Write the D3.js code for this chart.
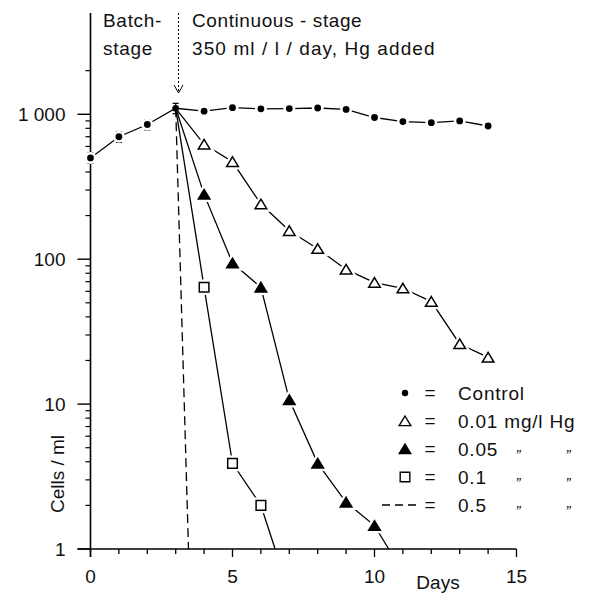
<!DOCTYPE html>
<html><head><meta charset="utf-8">
<script src="https://cdn.jsdelivr.net/npm/d3@7"></script>
<style>
html,body{margin:0;padding:0;background:#fff;}
text{font-family:"Liberation Sans",Arial,sans-serif;fill:#111;}
</style></head>
<body><svg id="chart" width="592" height="594"></svg>
<script>
// ---- data ----
const controlDays = [0,1,2,3,4,5,6,7,8,9,10,11,12,13,14];
const controlVals = [500,700,850,1100,1050,1110,1090,1095,1105,1080,950,890,875,900,830];
const controlErr  = [40,60,70,90];            // error bars, days 0-3
const hg001Days = [3,4,5,6,7,8,9,10,11,12,13,14];
const hg001Vals = [1100,620,470,240,157,118,85,69,63,51,26,21];
const hg005Days = [3,4,5,6,7,8,9,10,10.5];
const hg005Vals = [1100,280,94,64,10.7,3.9,2.1,1.45,1];
const hg01Days  = [3,4,5,6,6.5];
const hg01Vals  = [1100,64,3.9,2,1];
const hg05Days  = [3,3.45];
const hg05Vals  = [1100,1];
const xMajorTicks = [0,5,10,15];
const xMinorTicks = d3.range(0,16);
const yMajorTicks = [1,10,100,1000];
const yTickLabels = ["1","10","100","1 000"];
const yMinorTicks = [2,3,4,5,6,7,8,9,20,30,40,50,60,70,80,90,200,300,400,500,600,700,800,900,2000];
const legendLabels = ["Control","0.01 mg/l  Hg","0.05","0.1","0.5"];
const headerLeft = ["Batch-","stage"];
const headerRight = ["Continuous - stage","350 ml / l / day, Hg added"];
const arrowDay = 3.1;

// ---- scales ----
const svg = d3.select("#chart");
const x = d3.scaleLinear().domain([0,15]).range([90.5,516.5]);
const y = d3.scaleLog().domain([1,5000]).range([549,13]);
const fs = 19;

// axes
const g = svg.append("g");
g.append("line").attr("x1",x(0)).attr("x2",x(0)).attr("y1",y(5000)).attr("y2",y(1)+8)
  .attr("stroke","#000").attr("stroke-width",1.6);
g.append("line").attr("x1",x(0)-13).attr("x2",x(15)).attr("y1",y(1)).attr("y2",y(1))
  .attr("stroke","#000").attr("stroke-width",1.6);
// y ticks
g.selectAll(".ymaj").data(yMajorTicks).join("line")
  .attr("x1",x(0)-13).attr("x2",x(0)).attr("y1",d=>y(d)).attr("y2",d=>y(d))
  .attr("stroke","#000").attr("stroke-width",1.4);
g.selectAll(".ymin").data(yMinorTicks).join("line")
  .attr("x1",x(0)-5).attr("x2",x(0)).attr("y1",d=>y(d)).attr("y2",d=>y(d))
  .attr("stroke","#000").attr("stroke-width",1.2);
g.selectAll(".ylab").data(yMajorTicks).join("text")
  .attr("x",x(0)-25).attr("y",d=>y(d)+7).attr("text-anchor","end")
  .attr("font-size",fs).text((d,i)=>yTickLabels[i]);
// x ticks
g.selectAll(".xmin").data(xMinorTicks).join("line")
  .attr("x1",d=>x(d)).attr("x2",d=>x(d)).attr("y1",y(1)).attr("y2",d=>y(1)+(xMajorTicks.includes(d)?8:5))
  .attr("stroke","#000").attr("stroke-width",1.3);
g.selectAll(".xlab").data(xMajorTicks).join("text")
  .attr("x",d=>x(d)).attr("y",583).attr("text-anchor","middle")
  .attr("font-size",fs).text(d=>d);
g.append("text").attr("x",438).attr("y",589).attr("text-anchor","middle").attr("font-size",fs).text("Days");
g.append("text").attr("transform","translate(64,474) rotate(-90)").attr("text-anchor","middle")
  .attr("font-size",fs).text("Cells / ml");

// header
svg.selectAll(".hl").data(headerLeft).join("text").attr("x",103).attr("y",(d,i)=>27+i*28)
  .attr("font-size",fs).attr("letter-spacing",0.7).text(d=>d);
svg.selectAll(".hr").data(headerRight).join("text").attr("x",192).attr("y",(d,i)=>27+i*28)
  .attr("font-size",fs).attr("letter-spacing",(d,i)=>i?1.1:0.6).text(d=>d);
// arrow
svg.append("line").attr("x1",x(arrowDay)).attr("x2",x(arrowDay)).attr("y1",y(5000)).attr("y2",92)
  .attr("stroke","#000").attr("stroke-width",1).attr("stroke-dasharray","2,2");
svg.append("path").attr("d",`M${x(arrowDay)-4.5},85 L${x(arrowDay)},93 L${x(arrowDay)+4.5},85`)
  .attr("fill","none").attr("stroke","#000").attr("stroke-width",1);

// lines
const lineLin = d3.line().x(d=>x(d[0])).y(d=>y(d[1]));
const zip = (a,b)=>a.map((d,i)=>[d,b[i]]);
const lines = svg.append("g").attr("fill","none").attr("stroke","#000").attr("stroke-width",1.3);
lines.append("path").attr("d",lineLin(zip(controlDays,controlVals)));
lines.append("path").attr("d",lineLin(zip(hg001Days,hg001Vals)));
lines.append("path").attr("d",lineLin(zip(hg005Days,hg005Vals)));
lines.append("path").attr("d",lineLin(zip(hg01Days,hg01Vals)));
lines.append("path").attr("d",lineLin(zip(hg05Days,hg05Vals))).attr("stroke-dasharray","9,5");

// error bars
svg.selectAll(".err").data(controlErr).join("path")
  .attr("d",(e,i)=>{const xx=x(controlDays[i]),y1=y(controlVals[i]-e),y2=y(controlVals[i]+e);
    return `M${xx},${y1}V${y2}M${xx-3},${y1}h6M${xx-3},${y2}h6`;})
  .attr("stroke","#000").attr("stroke-width",1.2).attr("fill","none");

// markers
const tri = "M0,-5 L5.8,4.6 L-5.8,4.6 Z";
const sq = "M-4.8,-4.8 h9.6 v9.6 h-9.6 Z";
function markers(days, vals, shape, fill){
  const pts = zip(days,vals).filter(d=>d[0]!==3 && d[1]>1);
  const m = svg.append("g");
  m.selectAll("path.h").data(pts).join("path").attr("class","h")
    .attr("transform",d=>`translate(${x(d[0])},${y(d[1])})`).attr("d",shape)
    .attr("fill","#fff").attr("stroke","#fff").attr("stroke-width",6);
  m.selectAll("path.m").data(pts).join("path").attr("class","m")
    .attr("transform",d=>`translate(${x(d[0])},${y(d[1])})`).attr("d",shape)
    .attr("fill",fill).attr("stroke","#000").attr("stroke-width",1.5);
}
markers(hg001Days,hg001Vals,tri,"#fff");
markers(hg005Days,hg005Vals,tri,"#000");
markers(hg01Days,hg01Vals,sq,"#fff");
const cm = svg.append("g");
cm.selectAll("circle.h").data(zip(controlDays,controlVals).filter(d=>d[0]!==3)).join("circle").attr("class","h")
  .attr("cx",d=>x(d[0])).attr("cy",d=>y(d[1])).attr("r",6).attr("fill","#fff");
cm.selectAll("circle.m").data(zip(controlDays,controlVals)).join("circle").attr("class","m")
  .attr("cx",d=>x(d[0])).attr("cy",d=>y(d[1])).attr("r",3.4).attr("fill","#000");

// legend
const rows = [393,421,449,477,505];
const leg = svg.append("g");
leg.append("circle").attr("cx",405).attr("cy",rows[0]).attr("r",3.2).attr("fill","#000");
leg.append("path").attr("d",tri).attr("transform",`translate(405,${rows[1]})`).attr("fill","#fff").attr("stroke","#000").attr("stroke-width",1.4);
leg.append("path").attr("d",tri).attr("transform",`translate(405,${rows[2]})`).attr("fill","#000").attr("stroke","#000").attr("stroke-width",1.4);
leg.append("path").attr("d",sq).attr("transform",`translate(405,${rows[3]})`).attr("fill","#fff").attr("stroke","#000").attr("stroke-width",1.4);
leg.append("line").attr("x1",382).attr("x2",418).attr("y1",rows[4]).attr("y2",rows[4])
  .attr("stroke","#000").attr("stroke-width",1.3).attr("stroke-dasharray","8,5");
leg.selectAll(".eq").data(rows).join("text").attr("x",430).attr("y",d=>d+6).attr("text-anchor","middle")
  .attr("font-size",fs).text("=");
leg.selectAll(".ll").data(rows).join("text").attr("x",458).attr("y",d=>d+7)
  .attr("font-size",fs).attr("letter-spacing",0.8).text((d,i)=>legendLabels[i]);
[518,568].forEach(xx=>{
  leg.selectAll(null).data(rows.slice(2)).join("text").attr("x",xx).attr("y",d=>d+11)
    .attr("text-anchor","middle").attr("font-size",15).attr("font-style","italic").text("\u201D");
});
</script></body></html>
